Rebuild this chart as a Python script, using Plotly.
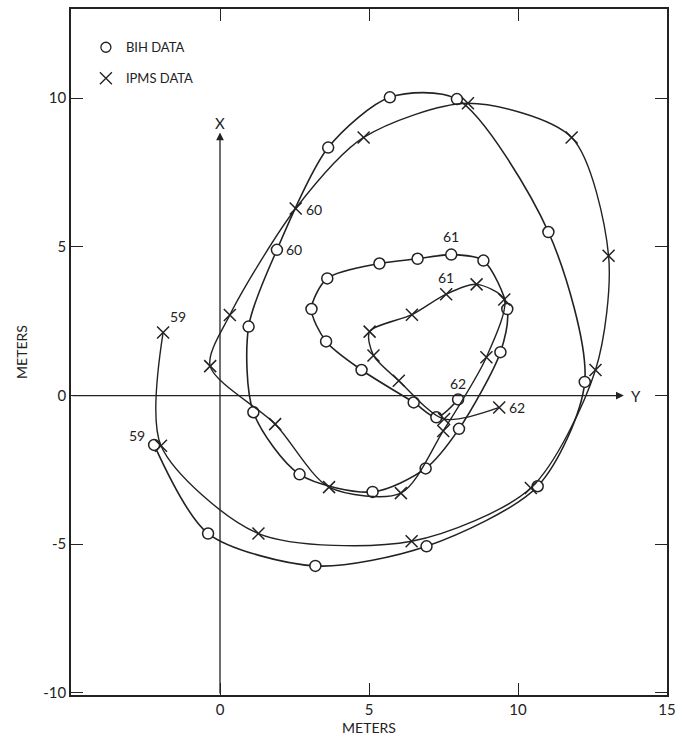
import plotly.graph_objects as go

# ---- data (meters) ----
bih_x = [-2.21, -0.40, 3.20, 6.93, 10.66, 12.24, 11.02, 7.95, 5.70, 3.63, 1.91,
         0.96, 1.12, 2.67, 5.12, 6.90, 8.02, 9.41, 9.64, 8.84, 7.76,
         6.63, 5.35, 3.60, 3.07, 3.56, 4.75, 6.50, 7.26, 7.99]
bih_y = [-1.66, -4.64, -5.73, -5.07, -3.05, 0.46, 5.50, 9.97, 10.03, 8.34, 4.90,
         2.32, -0.56, -2.65, -3.24, -2.45, -1.12, 1.46, 2.91, 4.54, 4.74,
         4.60, 4.44, 3.94, 2.91, 1.82, 0.86, -0.23, -0.73, -0.13]

ipms_x = [-1.91, -1.98, 1.29, 6.43, 10.43, 12.60, 13.04, 11.80, 8.32, 4.82, 2.54,
          0.33, -0.33, 1.85, 3.66, 6.07, 7.49, 8.94, 9.54, 8.61, 7.59,
          6.44, 5.02, 5.15, 6.00, 7.52, 9.37]
ipms_y = [2.12, -1.69, -4.64, -4.90, -3.11, 0.86, 4.70, 8.68, 9.83, 8.68, 6.29,
          2.71, 0.99, -0.96, -3.08, -3.28, -1.19, 1.29, 3.23, 3.74, 3.41,
          2.72, 2.15, 1.35, 0.50, -0.79, -0.40]

# year labels: point index in each series, and the label text
bih_year_idx = [0, 10, 20, 29]
ipms_year_idx = [0, 10, 20, 26]
year_text = ["59", "60", "61", "62"]

x_ticks = [0, 5, 10, 15]
x_tick_text = ["0", "5", "10", "15"]
y_ticks = [-10, -5, 0, 5, 10]
y_tick_text = ["-10", "-5", "0", "5", "10"]

INK = "#222222"
FONT = "Lato, 'Open Sans', sans-serif"

fig = go.Figure()

fig.add_trace(go.Scatter(
    x=bih_x, y=bih_y, mode="lines+markers", showlegend=False,
    line=dict(color=INK, width=1.6, shape="spline", smoothing=0.8),
    marker=dict(symbol="circle", size=11, color="white",
                line=dict(color=INK, width=1.5)),
))
fig.add_trace(go.Scatter(
    x=ipms_x, y=ipms_y, mode="lines+markers", showlegend=False,
    line=dict(color=INK, width=1.4, shape="spline", smoothing=0.8),
    marker=dict(symbol="x-thin-open", size=12, color=INK,
                line=dict(color=INK, width=1.5)),
))

# legend-only traces
fig.add_trace(go.Scatter(
    x=[None], y=[None], mode="markers", name="BIH DATA", legendgroup="a",
    marker=dict(symbol="circle", size=10, color="white",
                line=dict(color=INK, width=1.3)),
))
fig.add_trace(go.Scatter(
    x=[None], y=[None], mode="markers", name="IPMS DATA", legendgroup="b",
    marker=dict(symbol="x-thin-open", size=12, color=INK,
                line=dict(color=INK, width=1.3)),
))

ann = []
bih_off = [dict(xanchor="right", xshift=-7, yshift=9),
           dict(xanchor="left", xshift=7, yshift=0),
           dict(xanchor="center", xshift=0, yshift=18),
           dict(xanchor="center", xshift=0, yshift=16)]
ipms_off = [dict(xanchor="left", xshift=5, yshift=16),
            dict(xanchor="left", xshift=8, yshift=-1),
            dict(xanchor="center", xshift=0, yshift=17),
            dict(xanchor="left", xshift=8, yshift=0)]
for i, t, o in zip(bih_year_idx, year_text, bih_off):
    ann.append(dict(x=bih_x[i], y=bih_y[i], text=t, showarrow=False,
                    font=dict(size=14, color=INK, family=FONT), **o))
for i, t, o in zip(ipms_year_idx, year_text, ipms_off):
    ann.append(dict(x=ipms_x[i], y=ipms_y[i], text=t, showarrow=False,
                    font=dict(size=14, color=INK, family=FONT), **o))

# coordinate axes with arrows
ann.append(dict(x=0, y=8.85, ax=0, ay=-10.07, xref="x", yref="y",
                axref="x", ayref="y", showarrow=True, arrowhead=2,
                arrowsize=1.2, arrowwidth=1.3, arrowcolor=INK, text=""))
ann.append(dict(x=13.55, y=0, ax=-5, ay=0, xref="x", yref="y",
                axref="x", ayref="y", showarrow=True, arrowhead=2,
                arrowsize=1.2, arrowwidth=1.3, arrowcolor=INK, text=""))
ann.append(dict(x=0, y=9.15, text="X", showarrow=False,
                font=dict(size=15, color=INK, family=FONT)))
ann.append(dict(x=13.95, y=0, text="Y", showarrow=False,
                font=dict(size=15, color=INK, family=FONT)))

axis_common = dict(showgrid=False, zeroline=False, showline=True,
                   linecolor=INK, linewidth=1.5, mirror="ticks",
                   ticks="inside", ticklen=12, tickwidth=1.3, tickcolor=INK,
                   tickfont=dict(size=15, color=INK, family=FONT))

fig.update_layout(
    width=683, height=744,
    margin=dict(l=71, r=8, t=7, b=49),
    paper_bgcolor="white", plot_bgcolor="white",
    font=dict(family=FONT, color=INK),
    xaxis=dict(range=[-5, 15], tickvals=x_ticks, ticktext=x_tick_text,
               title=dict(text="METERS", standoff=6,
                          font=dict(size=14, color=INK, family=FONT)),
               **axis_common),
    yaxis=dict(range=[-10.07, 13], tickvals=y_ticks, ticktext=y_tick_text,
               title=dict(text="METERS", standoff=12,
                          font=dict(size=14, color=INK, family=FONT)),
               **axis_common),
    legend=dict(x=0.025, y=0.966, xanchor="left", yanchor="top",
                bgcolor="rgba(0,0,0,0)", tracegroupgap=11,
                font=dict(size=13, color=INK, family=FONT)),
    annotations=ann,
)

fig.write_html("out.html")
